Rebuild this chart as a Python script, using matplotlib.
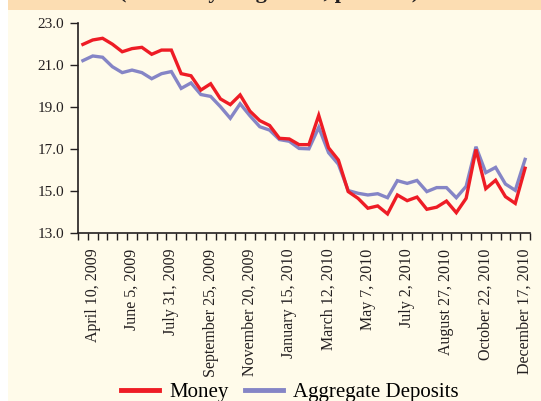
import datetime as dt
import matplotlib
matplotlib.use("Agg")
import matplotlib.pyplot as plt
from matplotlib.patches import Rectangle

# fortnightly reporting dates, 27 Mar 2009 to 17 Dec 2010
start = dt.date(2009, 3, 27)
dates = [start + dt.timedelta(days=14 * i) for i in range(46)]

money = [21.97, 22.18, 22.26, 21.98, 21.62, 21.77, 21.83, 21.50, 21.70, 21.70,
         20.58, 20.48, 19.80, 20.10, 19.38, 19.11, 19.57, 18.80, 18.35, 18.12,
         17.51, 17.48, 17.21, 17.21, 18.60, 17.06, 16.48, 14.98, 14.66, 14.19,
         14.30, 13.92, 14.82, 14.55, 14.72, 14.14, 14.24, 14.53, 13.98, 14.66,
         16.98, 15.12, 15.52, 14.74, 14.42, 16.09]
deposits = [21.20, 21.42, 21.36, 20.91, 20.63, 20.75, 20.63, 20.34, 20.58, 20.68,
            19.88, 20.14, 19.59, 19.50, 19.01, 18.46, 19.15, 18.58, 18.06, 17.90,
            17.45, 17.37, 17.03, 17.01, 18.03, 16.83, 16.28, 15.03, 14.90, 14.82,
            14.88, 14.69, 15.50, 15.37, 15.51, 14.98, 15.17, 15.17, 14.69, 15.23,
            17.11, 15.88, 16.13, 15.34, 15.04, 16.51]

# every fourth date gets a label
label_idx = list(range(1, 46, 4))
labels = [f"{dates[i]:%B} {dates[i].day}, {dates[i].year}" for i in label_idx]
yticks = [13.0, 15.0, 17.0, 19.0, 21.0, 23.0]

plt.rcParams['font.family'] = ['Liberation Serif', 'DejaVu Serif']

fig = plt.figure(figsize=(5.41, 4.01), dpi=100, facecolor="white")
# cream panel and peach title band
fig.patches.append(Rectangle((8 / 541, 0), 1, 1, transform=fig.transFigure,
                             facecolor="#FFFBEA", edgecolor="none", zorder=-2))
fig.patches.append(Rectangle((8 / 541, (401 - 10) / 401), 1, 1, transform=fig.transFigure,
                             facecolor="#FCDDB2", edgecolor="none", zorder=-1))
# title sits mostly above the crop, as in the source
fig.text(0.497, 1.005, "(Year-on-year growth, per cent)", ha="center", va="baseline",
         fontsize=16, fontweight="bold", color="#231F20")

ax = fig.add_axes([78 / 541, 1 - 233.3 / 401, 452 / 541, (233.3 - 22.7) / 401])
ax.set_facecolor("none")

x = list(range(len(dates)))
ax.plot(x, deposits, color="#8585C6", lw=2.4, label="Aggregate Deposits", solid_joinstyle="miter")
ax.plot(x, money, color="#EE1C25", lw=2.4, label="Money", solid_joinstyle="miter")

ax.set_xlim(-0.5, len(dates) - 0.5)
ax.set_ylim(13, 23)
ax.set_yticks(yticks)
ax.set_yticklabels([f"{v:.1f}" for v in yticks], fontsize=11, color="#231F20")

# ticks on category boundaries, labels at category centres
ax.set_xticks([i - 0.5 for i in range(len(dates) + 1)])
ax.set_xticklabels([])
ax.set_xticks(label_idx, minor=True)
ax.set_xticklabels(labels, minor=True, rotation=90, fontsize=11.5, color="#231F20")
ax.tick_params(axis="x", which="major", direction="out", length=5, width=1, color="#231F20")
ax.tick_params(axis="x", which="minor", length=0, pad=11)
ax.tick_params(axis="y", direction="out", length=6, width=1, color="#231F20", pad=4)

for side in ["top", "right"]:
    ax.spines[side].set_visible(False)
for side in ["left", "bottom"]:
    ax.spines[side].set_color("#231F20")
    ax.spines[side].set_linewidth(1.2)

handles, names = ax.get_legend_handles_labels()
leg = fig.legend(handles[::-1], names[::-1], loc="center", bbox_to_anchor=(0.536, 0.022),
                 ncol=2, frameon=False, fontsize=15, handlelength=1.8, handletextpad=0.5,
                 columnspacing=0.8, borderpad=0)
for h in leg.get_lines():
    h.set_linewidth(3.5)

fig.savefig("out.png", dpi=100, facecolor=fig.get_facecolor())
